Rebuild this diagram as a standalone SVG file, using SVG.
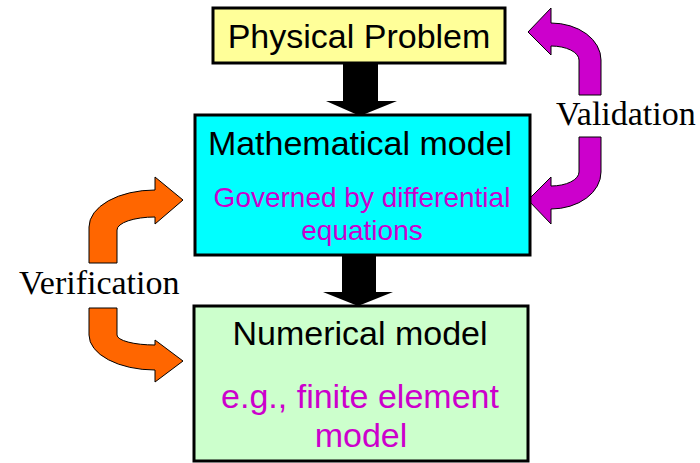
<svg xmlns="http://www.w3.org/2000/svg" width="700" height="463" viewBox="0 0 700 463">
<style>
.box{stroke:#000;stroke-width:3}
.title{font-family:"Liberation Sans",Arial,sans-serif;font-size:34px;fill:#000;text-anchor:middle}
.sub{font-family:"Liberation Sans",Arial,sans-serif;fill:#CC00CC;text-anchor:middle}
.lbl{font-family:"Liberation Serif","Times New Roman",serif;font-size:34px;fill:#000}
.down{fill:#000}
.val{fill:#CC00CC;stroke:#000;stroke-width:1}
.ver{fill:#FF6600;stroke:#000;stroke-width:1}
</style>
<rect width="700" height="463" fill="#fff"/>
<g id="connectors">
  <path class="down" d="M343 63 L378 63 L378 101 L397 101 L360 116 L326 101 L343 101 Z"/>
  <path class="down" d="M342 255 L376 255 L376 292 L393 292 L358 306 L323 292 L342 292 Z"/>
  <g id="validation">
    <path class="val" d="M601 95 L601 60 A50 37 0 0 0 551 23 L551 8 L528 32 L551 55 L551 46 A28 14 0 0 1 579 60 L579 95 Z"/>
    <path class="val" d="M601 137 L601 172 A50 37 0 0 1 551 209 L551 224 L528 200 L551 177 L551 186 A28 14 0 0 0 579 172 L579 137 Z"/>
    <text class="lbl" x="556" y="125">Validation</text>
  </g>
  <g id="verification">
    <path class="ver" d="M89 263 L89 227 A66 37 0 0 1 155 190 L155 177 L183 200 L155 224 L155 217 A38 13 0 0 0 117 230 L117 263 Z"/>
    <path class="ver" d="M89 308 L89 335 A66 35 0 0 0 155 370 L155 382 L183 361 L155 340 L155 345 A38 10 0 0 1 117 335 L117 308 Z"/>
    <text class="lbl" x="19" y="294">Verification</text>
  </g>
</g>
<g id="physical">
  <rect class="box" x="213" y="8" width="292" height="55" fill="#FFFF99" stroke-width="2.5"/>
  <text class="title" x="359" y="48">Physical Problem</text>
</g>
<g id="mathematical">
  <rect class="box" x="195" y="115" width="335" height="140" fill="#00FFFF"/>
  <text class="title" x="360" y="155">Mathematical model</text>
  <text class="sub" x="362" y="207" font-size="28">Governed by differential</text>
  <text class="sub" x="362" y="240" font-size="28">equations</text>
</g>
<g id="numerical">
  <rect class="box" x="194" y="306" width="334" height="155" fill="#CCFFCC"/>
  <text class="title" x="360" y="345">Numerical model</text>
  <text class="sub" x="360" y="408" font-size="34">e.g., finite element</text>
  <text class="sub" x="361" y="447" font-size="34">model</text>
</g>
</svg>
